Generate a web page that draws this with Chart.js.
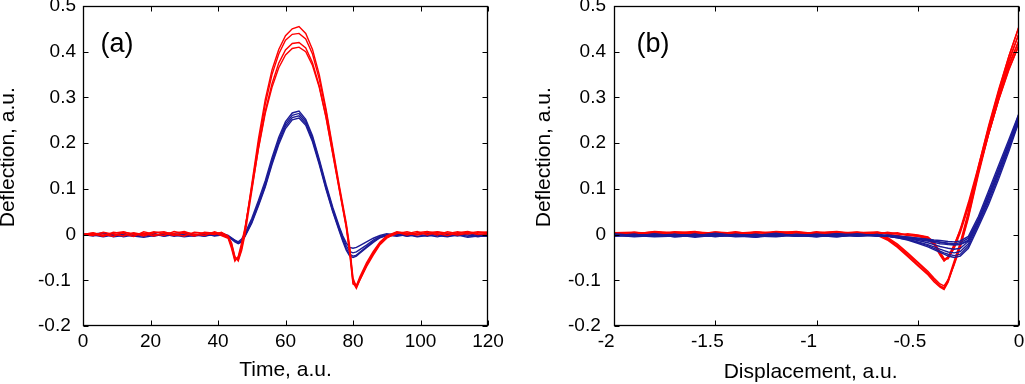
<!DOCTYPE html>
<html lang="en">
<head>
<meta charset="UTF-8" />
<title>Deflection traces</title>
<script src="https://cdn.jsdelivr.net/npm/chart.js"></script>
<style>
  body { margin: 0; background: #fff; }
  #wrap { position: relative; width: 1025px; height: 384px; background: #fff; }
  canvas { position: absolute; top: 0; }
  #chartA { left: 0; }
  #chartB { left: 512px; }
</style>
</head>
<body>
<div id="wrap">
  <canvas id="chartA" width="512" height="384"></canvas>
  <canvas id="chartB" width="513" height="384"></canvas>
</div>
<script>
// ---- panel (a): deflection vs time ----
const timeA = [0,3,6,9,12,15,18,21,24,27,30,33,36,39,41, 43,44,45,46,47,48,
  50,52,54,56,58,60,62,64,66,68,70,72,74,76, 77,78,79,80,81,82, 84,86,88,90,
  93,96,99,102,105,108,111,114,117,120];

const redA1 = [0,0.004,-0.003,0.005,0.002,-0.004,0.006,0.001,-0.002,0.007,0.002,-0.003,0.005,0.003,0.004,
  -0.004,-0.02,-0.05,-0.055,-0.03,0.01,
  0.11,0.21,0.295,0.36,0.405,0.435,0.45,0.455,0.44,0.405,0.35,0.275,0.19,0.105,
  0.065,0.025,-0.025,-0.095,-0.115,-0.1, -0.07,-0.045,-0.022,-0.008,
  0.004,0.002,0.007,-0.001,0.005,0.002,0.006,0.001,0.004,0.006];
const redA2 = [0,-0.002,0.005,0.001,-0.003,0.004,0.0,0.006,0.002,-0.002,0.005,0.001,-0.002,0.006,0.001,
  -0.006,-0.025,-0.055,-0.05,-0.025,0.012,
  0.105,0.2,0.285,0.35,0.395,0.425,0.438,0.44,0.428,0.395,0.34,0.27,0.185,0.1,
  0.06,0.02,-0.03,-0.1,-0.112,-0.097, -0.066,-0.042,-0.02,-0.006,
  0.002,0.006,0.001,0.005,-0.001,0.006,0.002,0.005,0.0,0.003];
const redA3 = [0,0.003,0.001,-0.004,0.005,0.002,-0.003,0.004,0.006,0.0,-0.003,0.005,0.003,0.0,0.005,
  -0.003,-0.018,-0.048,-0.058,-0.035,0.0,
  0.095,0.19,0.27,0.33,0.375,0.404,0.418,0.42,0.408,0.376,0.325,0.258,0.178,0.098,
  0.058,0.018,-0.035,-0.105,-0.118,-0.1, -0.068,-0.04,-0.018,-0.004,
  0.005,-0.001,0.004,0.007,0.002,-0.002,0.004,0.007,0.002,0.001];
const redA4 = [0,0.001,-0.004,0.003,0.006,0.0,0.003,-0.003,0.004,0.003,0.007,0.0,0.002,0.004,-0.002,
  -0.008,-0.03,-0.058,-0.048,-0.018,0.015,
  0.1,0.188,0.265,0.322,0.365,0.393,0.407,0.41,0.4,0.37,0.322,0.256,0.176,0.095,
  0.055,0.015,-0.04,-0.108,-0.112,-0.093, -0.062,-0.037,-0.016,-0.003,
  0.006,0.003,-0.001,0.004,0.006,0.003,-0.001,0.003,0.006,0.004];

const blueA1 = [0,-0.003,0.002,-0.005,-0.002,0.003,-0.004,0.0,-0.003,0.002,-0.002,0.001,-0.003,0.002,0.0,
  -0.004,-0.008,-0.012,-0.016,-0.01,0.003,
  0.035,0.075,0.118,0.168,0.213,0.247,0.266,0.27,0.252,0.216,0.165,0.11,0.06,0.016,
  -0.003,-0.018,-0.028,-0.03,-0.028,-0.024, -0.016,-0.008,-0.002,0.002,
  -0.002,0.001,-0.004,-0.001,-0.005,0.0,-0.003,0.002,-0.002,0.0];
const blueA2 = [0,0.002,-0.004,0.001,-0.005,-0.001,0.002,-0.004,0.001,-0.004,0.0,-0.004,0.001,-0.002,0.003,
  -0.002,-0.007,-0.013,-0.018,-0.013,0.0,
  0.03,0.07,0.112,0.162,0.207,0.242,0.261,0.265,0.248,0.212,0.161,0.106,0.056,0.013,
  -0.007,-0.024,-0.037,-0.04,-0.038,-0.033, -0.023,-0.012,-0.004,0.0,
  0.002,-0.003,0.001,-0.004,0.001,-0.003,0.001,-0.004,0.0,-0.002];
const blueA3 = [0,-0.001,-0.005,-0.001,0.003,-0.003,-0.006,-0.002,0.002,-0.001,-0.005,-0.002,0.002,-0.003,-0.001,
  -0.005,-0.009,-0.014,-0.019,-0.015,-0.003,
  0.027,0.066,0.107,0.157,0.202,0.237,0.256,0.26,0.243,0.207,0.157,0.102,0.052,0.009,
  -0.012,-0.03,-0.043,-0.047,-0.045,-0.039, -0.027,-0.015,-0.006,-0.001,
  -0.004,0.0,-0.005,-0.002,0.001,-0.004,-0.001,-0.006,-0.003,-0.004];
const blueA4 = [0,0.001,0.004,-0.002,0.0,-0.004,0.001,0.003,-0.004,0.0,0.003,-0.001,-0.004,0.001,0.002,
  -0.003,-0.01,-0.016,-0.02,-0.016,-0.004,
  0.025,0.063,0.104,0.153,0.197,0.232,0.251,0.255,0.239,0.203,0.153,0.099,0.05,0.006,
  -0.015,-0.034,-0.047,-0.05,-0.047,-0.041, -0.029,-0.017,-0.007,-0.002,
  0.001,-0.004,0.0,0.003,-0.002,-0.005,0.0,-0.001,-0.005,-0.001];

// ---- panel (b): deflection vs displacement (approach, then retract) ----
const dispApp = [-2,-1.9,-1.8,-1.7,-1.6,-1.5,-1.4,-1.3,-1.2,-1.1,-1,-0.9,-0.8,-0.7,
  -0.65,-0.6,-0.55,-0.5,-0.45,-0.42,-0.39,-0.37,-0.35,-0.32,-0.29,-0.25,-0.2,-0.15,-0.1,-0.05,0];
const dispRet = [0,-0.05,-0.1,-0.15,-0.2,-0.25,-0.29,-0.32,-0.35,-0.37,-0.39,-0.42,-0.45,-0.5,-0.55,-0.6,-0.65,-0.7,
  -0.8,-0.9,-1,-1.1,-1.2,-1.3,-1.4,-1.5,-1.6,-1.7,-1.8,-1.9,-2];

const redApp1 = [0.003,-0.004,0.006,0.001,-0.003,0.005,0.002,-0.002,0.006,0.0,0.004,0.007,0.002,0.004,
  0.003,0.001,-0.001,-0.002,-0.006,-0.018,-0.04,-0.054,-0.05,-0.025,0.012,0.07,0.15,0.235,0.315,0.39,0.455];
const redApp2 = [-0.002,0.005,0.0,0.004,0.007,-0.001,0.003,0.006,0.001,0.005,-0.002,0.003,0.006,0.001,
  0.005,0.002,0.0,-0.003,-0.008,-0.02,-0.043,-0.057,-0.052,-0.028,0.008,0.065,0.145,0.228,0.305,0.378,0.44];
const redApp3 = [0.004,0.001,-0.003,0.006,0.002,0.004,-0.002,0.005,0.003,-0.001,0.006,0.001,-0.001,0.005,
  0.001,-0.002,0.002,-0.001,-0.005,-0.016,-0.038,-0.052,-0.053,-0.03,0.004,0.06,0.138,0.22,0.297,0.368,0.425];
const redApp4 = [0.0,0.003,0.005,-0.002,0.004,0.001,0.006,-0.001,0.004,0.007,0.002,-0.002,0.004,0.006,
  0.002,0.004,-0.002,-0.004,-0.01,-0.022,-0.045,-0.058,-0.048,-0.022,0.01,0.062,0.14,0.22,0.295,0.36,0.415];

const redRet1 = [0.455,0.39,0.318,0.238,0.15,0.05,-0.018,-0.058,-0.098,-0.116,-0.112,-0.1,-0.086,-0.066,-0.046,-0.026,-0.01,0.001,
  0.004,-0.002,0.005,0.001,0.006,-0.003,0.003,0.006,0.0,0.004,0.007,0.001,0.003];
const redRet2 = [0.44,0.382,0.31,0.232,0.142,0.044,-0.022,-0.062,-0.102,-0.118,-0.113,-0.098,-0.083,-0.062,-0.043,-0.024,-0.008,0.002,
  -0.002,0.004,0.001,0.006,0.002,0.005,-0.001,0.003,0.006,0.001,-0.002,0.004,0.0];
const redRet3 = [0.425,0.372,0.302,0.225,0.136,0.04,-0.025,-0.064,-0.104,-0.12,-0.115,-0.103,-0.088,-0.068,-0.048,-0.028,-0.012,-0.002,
  0.005,0.001,-0.003,0.004,0.007,0.002,0.005,-0.002,0.003,0.006,0.002,0.005,0.004];
const redRet4 = [0.415,0.362,0.296,0.22,0.132,0.036,-0.028,-0.066,-0.1,-0.112,-0.108,-0.095,-0.08,-0.06,-0.04,-0.021,-0.006,0.003,
  0.001,0.006,0.003,-0.001,0.004,0.006,0.0,0.005,0.002,-0.002,0.005,0.003,-0.001];

const blueApp1 = [0.0,-0.004,0.002,-0.003,0.001,-0.005,0.0,-0.002,0.003,-0.004,0.001,-0.002,0.002,-0.003,
  -0.002,-0.004,-0.006,-0.008,-0.01,-0.012,-0.013,-0.014,-0.015,-0.016,-0.014,-0.004,0.04,0.096,0.152,0.208,0.265];
const blueApp2 = [-0.003,0.001,-0.004,0.0,-0.006,-0.001,-0.004,0.001,-0.003,0.0,-0.005,0.001,-0.003,0.0,
  -0.004,-0.005,-0.007,-0.01,-0.013,-0.015,-0.017,-0.018,-0.019,-0.02,-0.018,-0.008,0.035,0.09,0.146,0.202,0.26];
const blueApp3 = [0.002,-0.002,0.0,-0.005,-0.002,0.002,-0.003,-0.005,0.0,-0.002,-0.004,0.002,-0.001,-0.004,
  -0.001,-0.003,-0.005,-0.008,-0.011,-0.014,-0.016,-0.018,-0.02,-0.022,-0.021,-0.012,0.03,0.085,0.14,0.196,0.255];
const blueApp4 = [-0.001,-0.005,-0.002,0.001,-0.003,-0.004,0.001,-0.003,-0.005,-0.001,-0.002,-0.005,0.0,-0.002,
  -0.003,-0.006,-0.008,-0.011,-0.014,-0.017,-0.02,-0.021,-0.022,-0.023,-0.022,-0.014,0.026,0.08,0.134,0.19,0.248];

const blueRet1 = [0.265,0.2,0.14,0.083,0.032,-0.015,-0.03,-0.032,-0.03,-0.028,-0.026,-0.022,-0.018,-0.013,-0.008,-0.005,-0.002,0.0,
  -0.003,0.002,-0.002,0.001,-0.004,0.0,-0.002,0.003,-0.003,0.0,-0.004,0.001,-0.002];
const blueRet2 = [0.26,0.195,0.135,0.078,0.027,-0.02,-0.037,-0.04,-0.038,-0.035,-0.032,-0.027,-0.022,-0.016,-0.01,-0.006,-0.003,-0.001,
  0.0,-0.004,0.001,-0.003,0.0,-0.005,-0.001,-0.003,0.001,-0.004,-0.001,-0.003,0.0];
const blueRet3 = [0.255,0.188,0.128,0.072,0.022,-0.025,-0.043,-0.046,-0.043,-0.04,-0.036,-0.03,-0.024,-0.017,-0.011,-0.007,-0.003,-0.001,
  -0.004,-0.001,-0.005,-0.002,0.002,-0.003,-0.005,0.0,-0.002,-0.005,0.001,-0.003,-0.001];
const blueRet4 = [0.248,0.182,0.122,0.066,0.017,-0.03,-0.047,-0.05,-0.047,-0.043,-0.039,-0.033,-0.027,-0.019,-0.012,-0.007,-0.004,-0.002,
  -0.001,-0.005,-0.002,-0.004,-0.001,-0.006,-0.002,-0.004,0.0,-0.003,-0.005,-0.002,-0.004];

const RED = "#ff0000";
const BLUE = "#1c1c96";
const FONT = "'Liberation Sans', Arial, Helvetica, sans-serif";
const NB = "\u00a0";

function pts(xs, ys) {
  return xs.map((x, i) => ({ x: x, y: ys[i] }));
}
function trace(xs, ys, color) {
  return { data: pts(xs, ys), borderColor: color, borderWidth: 1.4, pointRadius: 0,
           showLine: true, fill: false, tension: 0 };
}
function yLabel(v) {
  const s = String(Math.round(v * 10) / 10);
  return v < -1e-9 ? s + NB : s;
}

// box around the plot area, inward tick marks on all four sides, panel letter
const frame = {
  id: "frame",
  afterDatasetsDraw(chart, args, opts) {
    const { ctx, chartArea: a, scales } = chart;
    const L = a.left + 0.5, R = a.right - 0.5, T = a.top + 0.5, B = a.bottom - 0.5;
    const len = 5;
    ctx.save();
    ctx.strokeStyle = "#000";
    ctx.lineWidth = 1;
    ctx.beginPath();
    scales.x.ticks.forEach(t => {
      const px = Math.round(scales.x.getPixelForValue(t.value)) + 0.5;
      ctx.moveTo(px, B); ctx.lineTo(px, B - len);
      ctx.moveTo(px, T); ctx.lineTo(px, T + len);
    });
    scales.y.ticks.forEach(t => {
      const py = Math.round(scales.y.getPixelForValue(t.value)) + 0.5;
      ctx.moveTo(L, py); ctx.lineTo(L + len, py);
      ctx.moveTo(R, py); ctx.lineTo(R - len, py);
    });
    ctx.stroke();
    ctx.lineWidth = 1.3;
    ctx.strokeRect(L, T, R - L, B - T);
    ctx.fillStyle = "#000";
    ctx.font = "27px " + FONT;
    ctx.textAlign = "center";
    ctx.textBaseline = "middle";
    ctx.fillText(opts.label, a.left + opts.dx, a.top + opts.dy);
    ctx.restore();
  }
};

function makeScales(xOpt, yOpt) {
  return {
    x: {
      type: "linear", min: xOpt.min, max: xOpt.max,
      grid: { display: false, drawTicks: false },
      border: { display: false },
      ticks: { stepSize: xOpt.step, autoSkip: false, maxRotation: 0, padding: 4, color: "#000",
               font: { family: FONT, size: 19 }, callback: xOpt.cb },
      title: { display: true, text: xOpt.title, color: "#000",
               font: { family: FONT, size: 21, lineHeight: 1 }, padding: { top: 0, bottom: xOpt.titlePad } },
      afterFit: s => { s.height = 58; s.paddingLeft = 0; s.paddingRight = 0; }
    },
    y: {
      type: "linear", min: -0.2, max: 0.5,
      grid: { display: false, drawTicks: false },
      border: { display: false },
      ticks: { stepSize: 0.1, autoSkip: false, padding: yOpt.pad, color: "#000",
               font: { family: FONT, size: 19 }, callback: yLabel },
      title: { display: true, text: NB + NB + NB + "Deflection, a.u.", color: "#000",
               font: { family: FONT, size: 21, lineHeight: yOpt.titleLH }, padding: { top: yOpt.titlePad, bottom: 0 } },
      afterFit: s => { s.width = yOpt.width; s.paddingTop = 0; s.paddingBottom = 0; }
    }
  };
}

function baseOptions(padRight, frameOpts, scales) {
  return {
    animation: false, responsive: false, devicePixelRatio: 1,
    layout: { padding: { top: 6, right: padRight, left: 0, bottom: 0 } },
    plugins: { legend: { display: false }, tooltip: { enabled: false }, frame: frameOpts },
    scales: scales
  };
}

// panel (a): red drawn on top
new Chart(document.getElementById("chartA"), {
  type: "scatter",
  data: {
    datasets: [
      trace(timeA, redA1, RED), trace(timeA, redA2, RED),
      trace(timeA, redA3, RED), trace(timeA, redA4, RED),
      trace(timeA, blueA1, BLUE), trace(timeA, blueA2, BLUE),
      trace(timeA, blueA3, BLUE), trace(timeA, blueA4, BLUE)
    ]
  },
  options: baseOptions(24, { label: "(a)", dx: 34, dy: 39 },
    makeScales({ min: 0, max: 120, step: 20, title: "Time, a.u.", titlePad: 3.5,
                 cb: v => String(v) },
               { pad: 7, width: 83, titleLH: 0.8, titlePad: 0 })),
  plugins: [frame]
});

// panel (b): blue drawn on top
new Chart(document.getElementById("chartB"), {
  type: "scatter",
  data: {
    datasets: [
      trace(dispApp, blueApp1, BLUE), trace(dispRet, blueRet1, BLUE),
      trace(dispApp, blueApp2, BLUE), trace(dispRet, blueRet2, BLUE),
      trace(dispApp, blueApp3, BLUE), trace(dispRet, blueRet3, BLUE),
      trace(dispApp, blueApp4, BLUE), trace(dispRet, blueRet4, BLUE),
      trace(dispApp, redApp1, RED), trace(dispRet, redRet1, RED),
      trace(dispApp, redApp2, RED), trace(dispRet, redRet2, RED),
      trace(dispApp, redApp3, RED), trace(dispRet, redRet3, RED),
      trace(dispApp, redApp4, RED), trace(dispRet, redRet4, RED)
    ]
  },
  options: baseOptions(6, { label: "(b)", dx: 39, dy: 39 },
    makeScales({ min: -2, max: 0, step: 0.5, title: "Displacement, a.u." + NB + NB, titlePad: 1,
                 cb: v => { const s = String(Math.round(v * 10) / 10); return v < -1e-9 ? s + NB + NB + NB : s; } },
               { pad: 8, width: 102, titleLH: 1, titlePad: 22 })),
  plugins: [frame]
});
</script>
</body>
</html>
